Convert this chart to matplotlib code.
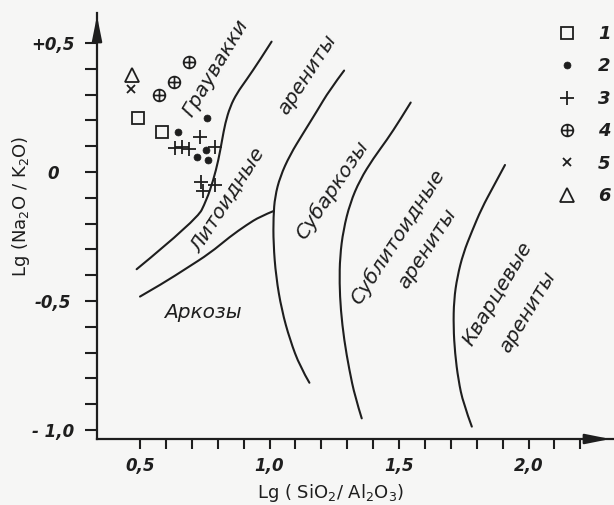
import numpy as np
import matplotlib
matplotlib.use("Agg")
import matplotlib.pyplot as plt
from matplotlib.path import Path
from matplotlib.patches import PathPatch
from matplotlib.ticker import FixedLocator

# ---------------- data ----------------
# sample groups (x = Lg(SiO2/Al2O3), y = Lg(Na2O/K2O))
g1_x = [0.492, 0.585]
g1_y = [0.209, 0.155]
g2_x = [0.759, 0.647, 0.755, 0.720, 0.763]
g2_y = [0.209, 0.155, 0.085, 0.058, 0.047]
g3_x = [0.732, 0.635, 0.662, 0.689, 0.790, 0.736, 0.743, 0.790]
g3_y = [0.136, 0.093, 0.097, 0.089, 0.097, -0.039, -0.074, -0.050]
g4_x = [0.689, 0.631, 0.573]
g4_y = [0.426, 0.349, 0.298]
g5_x = [0.465]
g5_y = [0.322]
g6_x = [0.469]
g6_y = [0.376]
group_labels = ["1", "2", "3", "4", "5", "6"]

# field boundaries
b1_x = [0.487, 0.719, 0.757, 0.783, 0.803, 0.817, 0.829, 0.848, 0.874, 0.911, 0.963, 1.008]
b1_y = [-0.377, -0.186, -0.109, -0.032, 0.047, 0.124, 0.189, 0.253, 0.305, 0.357, 0.434, 0.505]
b2_x = [0.500, 0.590, 0.680, 0.770, 0.847, 0.912, 0.963, 1.017]
b2_y = [-0.483, -0.431, -0.373, -0.315, -0.251, -0.205, -0.173, -0.151]
b3_x = [1.288, 1.232, 1.182, 1.130, 1.079, 1.041, 1.021, 1.015, 1.015, 1.025, 1.047, 1.079, 1.118, 1.154]
b3_y = [0.393, 0.318, 0.234, 0.150, 0.066, -0.018, -0.096, -0.173, -0.277, -0.406, -0.535, -0.651, -0.755, -0.817]
b4_x = [1.545, 1.504, 1.453, 1.401, 1.349, 1.311, 1.285, 1.272, 1.270, 1.275, 1.288, 1.308, 1.330, 1.356]
b4_y = [0.269, 0.202, 0.124, 0.053, -0.031, -0.121, -0.225, -0.328, -0.431, -0.535, -0.651, -0.767, -0.871, -0.955]
b5_x = [1.909, 1.864, 1.819, 1.781, 1.748, 1.725, 1.712, 1.710, 1.716, 1.729, 1.748, 1.781]
b5_y = [0.027, -0.057, -0.141, -0.231, -0.315, -0.406, -0.496, -0.600, -0.703, -0.806, -0.897, -0.987]

# field names
field_names = ["Граувакки", "Литоидные", "арениты", "Аркозы", "Субаркозы",
               "Сублитоидные", "арениты", "Кварцевые", "арениты"]
field_x = [0.790, 0.840, 1.145, 0.743, 1.241, 1.496, 1.608, 1.882, 1.998]
field_y = [0.403, -0.109, 0.376, -0.543, -0.070, -0.252, -0.295, -0.473, -0.543]
field_rot = [59, 57, 57, 0, 56, 57, 57, 59, 59]

x_ticks = [0.5, 1.0, 1.5, 2.0]
x_tick_labels = ["0,5", "1,0", "1,5", "2,0"]
y_ticks = [0.5, 0.0, -0.5, -1.0]
y_tick_labels = ["+0,5", "0", "-0,5", "- 1,0"]

# ---------------- figure ----------------
ink = "#1e1e1e"
bg = "#f6f6f5"
W, H = 614, 505
fig = plt.figure(figsize=(W / 100, H / 100), dpi=100, facecolor=bg)
ax = fig.add_axes([97 / W, 66 / H, 516 / W, 426 / H])
ax.set_facecolor(bg)
ax.set_xlim(0.334, 2.326)
ax.set_ylim(-1.035, 0.616)

for s in ["top", "right"]:
    ax.spines[s].set_visible(False)
for s in ["left", "bottom"]:
    ax.spines[s].set_linewidth(1.6)
    ax.spines[s].set_color(ink)

# arrows at axis ends
for tip, tail in [((0, 1.0), (0, 0.95)), ((1.0, 0), (0.96, 0))]:
    ax.annotate("", xy=tip, xytext=tail, xycoords="axes fraction",
                arrowprops=dict(arrowstyle="-|>,head_length=1.0,head_width=0.2",
                                color=ink, lw=1.6, mutation_scale=15),
                annotation_clip=False)

# ticks
ax.xaxis.set_major_locator(FixedLocator(x_ticks))
ax.xaxis.set_minor_locator(FixedLocator(np.round(np.arange(0.6, 2.25, 0.1), 2)))
ax.yaxis.set_major_locator(FixedLocator(y_ticks))
ax.yaxis.set_minor_locator(FixedLocator(np.round(np.arange(-0.9, 0.45, 0.1), 2)))
ax.set_xticklabels(x_tick_labels, fontsize=12, style="italic", weight="bold", color=ink)
ax.set_yticklabels(y_tick_labels, fontsize=12, style="italic", weight="bold", color=ink)
for lab in ax.get_yticklabels():
    lab.set_horizontalalignment("center")
ax.tick_params(axis="x", which="both", direction="out", length=7, width=1.5,
               color=ink, pad=6)
ax.tick_params(axis="y", which="both", direction="out", length=8.5, width=1.5,
               color=ink, pad=23)

# axis labels
ax.set_xlabel("Lg ( SiO$_2$/ Al$_2$O$_3$)", fontsize=13, color=ink)
ax.xaxis.set_label_coords(0.452, -0.10)
ax.set_ylabel("Lg (Na$_2$O / K$_2$O)", fontsize=13, color=ink)
ax.yaxis.set_label_coords(-0.125, 0.545)


def smooth_path(xs, ys):
    """Quadratic B-spline style path using the read points as control points."""
    pts = list(zip(xs, ys))
    verts = [pts[0]]
    codes = [Path.MOVETO]
    for i in range(1, len(pts) - 1):
        end = pts[-1] if i == len(pts) - 2 else (
            (pts[i][0] + pts[i + 1][0]) / 2, (pts[i][1] + pts[i + 1][1]) / 2)
        verts += [pts[i], end]
        codes += [Path.CURVE3, Path.CURVE3]
    return Path(verts, codes)


# boundaries
for bx, by in [(b1_x, b1_y), (b2_x, b2_y), (b3_x, b3_y), (b4_x, b4_y), (b5_x, b5_y)]:
    ax.add_patch(PathPatch(smooth_path(bx, by), facecolor="none", edgecolor=ink,
                           lw=1.5, capstyle="round"))

# markers
oplus = Path.make_compound_path(
    Path.unit_circle(),
    Path([(-1, 0), (1, 0)], [Path.MOVETO, Path.LINETO]),
    Path([(0, -1), (0, 1)], [Path.MOVETO, Path.LINETO]),
)
mk = dict(linestyle="none", color=ink, clip_on=False)
h1, = ax.plot(g1_x, g1_y, marker="s", ms=8.5, mfc="none", mew=1.3, label=group_labels[0], **mk)
h2, = ax.plot(g2_x, g2_y, marker="o", ms=5, mew=0.5, label=group_labels[1], **mk)
h3, = ax.plot(g3_x, g3_y, marker="+", ms=9.5, mew=1.3, label=group_labels[2], **mk)
h4, = ax.plot(g4_x, g4_y, marker=oplus, ms=8.5, mfc="none", mew=1.2, label=group_labels[3], **mk)
h5, = ax.plot(g5_x, g5_y, marker="x", ms=5.5, mew=1.3, label=group_labels[4], **mk)
h6, = ax.plot(g6_x, g6_y, marker="^", ms=10, mfc="none", mew=1.3, label=group_labels[5], **mk)

leg = ax.legend(handles=[h1, h2, h3, h4, h5, h6], loc="upper left",
                bbox_to_anchor=(558 / W, (H - 25) / H), bbox_transform=fig.transFigure,
                frameon=False, handlelength=1.0, handletextpad=1.2, labelspacing=0.8,
                borderpad=0, borderaxespad=0, numpoints=1,
                prop=dict(size=13, style="italic", weight="bold"))
for t in leg.get_texts():
    t.set_color(ink)

# field names
for name, fx, fy, rot in zip(field_names, field_x, field_y, field_rot):
    ax.text(fx, fy, name, rotation=rot, rotation_mode="anchor", ha="center",
            va="center", fontsize=14.5, style="italic", color=ink)

fig.savefig("out.png", dpi=100, facecolor=bg)
